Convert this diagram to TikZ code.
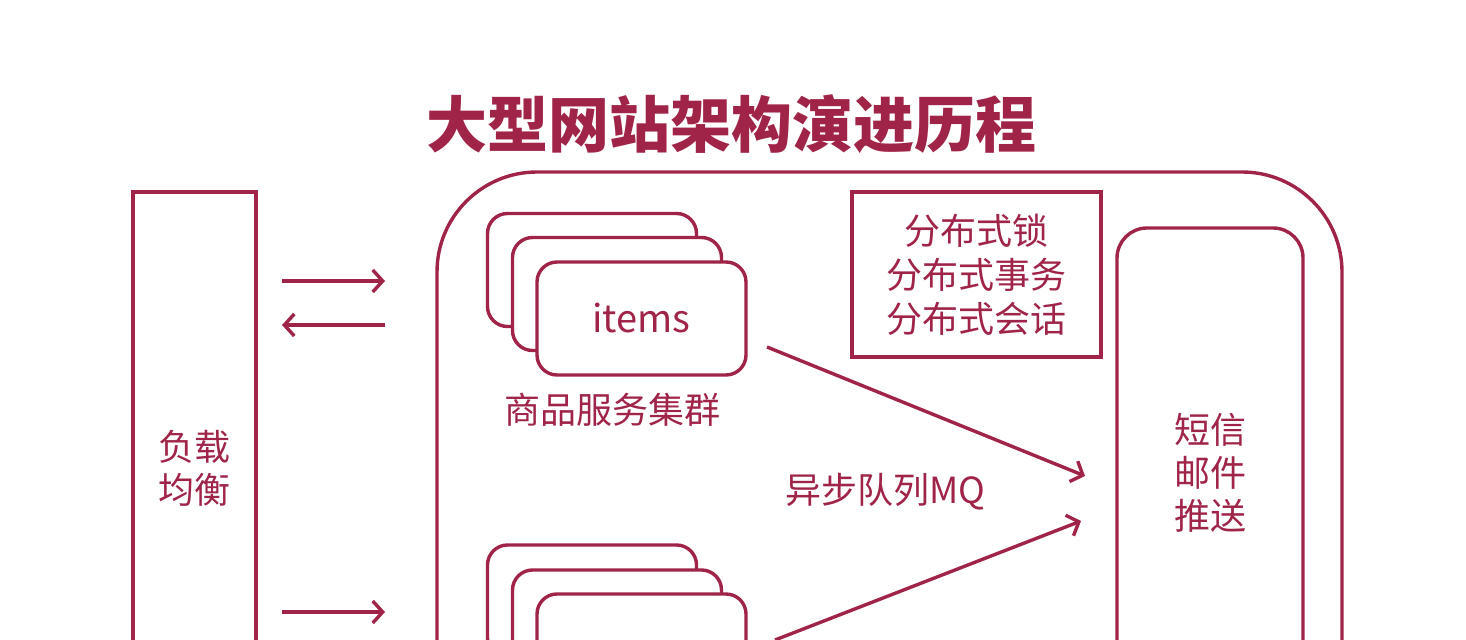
\documentclass[tikz,border=0pt]{standalone}
\usepackage{fontspec}
\setmainfont{Noto Sans CJK SC}
\usetikzlibrary{arrows.meta}
\definecolor{wine}{RGB}{160,36,72}
\begin{document}
\begin{tikzpicture}[x=0.5pt,y=-0.5pt,
  line/.style={draw=wine, line width=1.7pt},
  box/.style={line, fill=white, inner sep=0pt},
  lbl/.style={text=wine, font=\fontsize{18}{21.5}\selectfont, align=center, inner sep=0pt},
  arr/.style={line, -{Straight Barb[length=5pt,width=11pt,line width=1.7pt]}},
  card/.style={box, rounded corners=10pt, minimum width=104.5pt, minimum height=56.5pt}]
\useasboundingbox (0,0) rectangle (1466,640);
\fill[white] (0,0) rectangle (1466,640);
\clip (0,0) rectangle (1466,640);
% title
\node[text=wine, font=\fontsize{30.5}{36}\selectfont\bfseries, inner sep=0pt] (title) at (731,124) {大型网站架构演进历程};
% load balancer
\node[box, minimum width=61.5pt, minimum height=276pt, lbl, draw=wine] (lb) at (194.5,468) {负载\\均衡};
% big container
\node[box, rounded corners=50pt, minimum width=452.5pt, minimum height=364pt] (big) at (889.5,536) {};
% items stack
\node[card] (it3) at (592,270) {};
\node[card] (it2) at (617,294) {};
\node[card, lbl, font=\fontsize{19}{22}\selectfont] (items) at (641.5,318.5) {items};
\node[lbl] (itlbl) at (612,410) {商品服务集群};
% second stack
\node[card] (b3) at (592,601.5) {};
\node[card] (b2) at (617,626.5) {};
\node[card] (b1) at (641.5,650.5) {};
% distributed box
\node[box, minimum width=124.5pt, minimum height=82.5pt, lbl, font=\fontsize{18}{22}\selectfont] (dist) at (976.5,274.5) {分布式锁\\分布式事务\\分布式会话};
% message box
\node[box, rounded corners=15pt, minimum width=93pt, minimum height=245pt, lbl] (msg) at (1210,473) {短信\\邮件\\推送};
% MQ label
\node[lbl] (mq) at (885,492) {异步队列MQ};
% arrows
\coordinate (r1s) at (282,281); \coordinate (r1e) at (385,281);
\coordinate (l1s) at (385,325); \coordinate (l1e) at (282,325);
\coordinate (r2s) at (282,612); \coordinate (r2e) at (385,612);
\draw[arr] (r1s) -- (r1e);
\draw[arr] (l1s) -- (l1e);
\draw[arr] (r2s) -- (r2e);
\coordinate (m1s) at (767,347); \coordinate (m1e) at (1085,476);
\coordinate (m2s) at (775,640); \coordinate (m2e) at (1081,521);
\draw[arr] (m1s) -- (m1e);
\draw[arr] (m2s) -- (m2e);
\end{tikzpicture}
\end{document}
